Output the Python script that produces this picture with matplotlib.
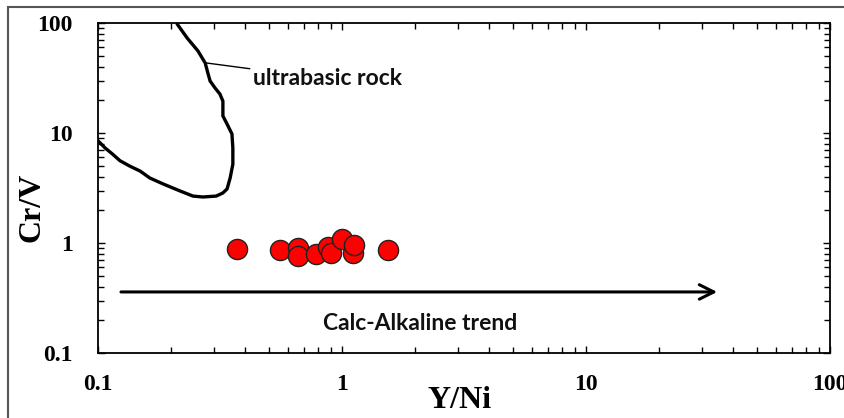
import matplotlib.pyplot as plt
from matplotlib.patches import Rectangle

# muestras (Y/Ni, Cr/V)
y_ni = [0.37, 0.557, 0.66, 0.66, 0.78, 0.876, 0.90, 1.00, 1.11, 1.12, 1.54]
cr_v = [0.88, 0.86, 0.90, 0.76, 0.79, 0.92, 0.81, 1.09, 0.81, 0.96, 0.86]

# campo de rocas ultrabásicas
ub_x = [0.211, 0.232, 0.257, 0.275, 0.282, 0.288, 0.302, 0.316, 0.325, 0.325,
        0.341, 0.354, 0.357, 0.357, 0.348, 0.338, 0.325, 0.305, 0.269, 0.245,
        0.217, 0.185, 0.163, 0.149, 0.135, 0.123, 0.115, 0.107, 0.100]
ub_y = [98, 73, 55.6, 43.3, 35.1, 29.7, 25.6, 22.6, 19.5, 14.3,
        11.6, 9.8, 7.3, 5.2, 3.9, 3.1, 2.85, 2.67, 2.62, 2.67,
        2.97, 3.44, 3.9, 4.5, 5.0, 5.6, 6.4, 7.3, 8.5]

# tendencia calco-alcalina
trend_x = [0.121, 35.4]
trend_y = [0.359, 0.359]

ticks = [0.1, 1, 10, 100]
tick_labels = ['0.1', '1', '10', '100']

fig = plt.figure(figsize=(8.45, 4.18), dpi=100)
ax = fig.add_axes([98 / 845, (418 - 353) / 418, (830 - 98) / 845, (353 - 23) / 418])

# marco exterior (recortado a la derecha y abajo)
fig.patches.append(Rectangle((8 / 845, -0.1), 1.2, (418 - 7) / 418 + 0.1,
                             transform=fig.transFigure, fill=False,
                             edgecolor='#555555', linewidth=1.5))

ax.plot(ub_x, ub_y, color='black', linewidth=2.4, solid_capstyle='round',
        solid_joinstyle='round')
ax.scatter(y_ni, cr_v, s=210, facecolor='red', edgecolor='#222222',
           linewidth=1.0, zorder=3)

ax.annotate('', xy=(trend_x[1], trend_y[1]), xytext=(trend_x[0], trend_y[0]),
            arrowprops=dict(arrowstyle='->', color='black', lw=2.2,
                            mutation_scale=26))
ax.text(2.09, 0.187, 'Calc-Alkaline trend', ha='center', va='center',
        fontsize=16.5, fontweight='bold', family='Lato', color='#111111')

ax.annotate('ultrabasic rock', xy=(0.274, 43.5), xytext=(0.43, 31),
            ha='left', va='center', fontsize=16.5, fontweight='bold',
            family='Lato', color='#111111',
            arrowprops=dict(arrowstyle='-', color='black', lw=1.0,
                            shrinkA=0, shrinkB=0))

ax.set_xscale('log')
ax.set_yscale('log')
ax.set_xlim(0.1, 100)
ax.set_ylim(0.1, 100)
ax.set_xticks(ticks)
ax.set_xticklabels(tick_labels)
ax.set_yticks(ticks)
ax.set_yticklabels(tick_labels)

ax.tick_params(which='both', direction='in', top=True, right=True, width=1.0)
ax.tick_params(which='major', length=5)
ax.tick_params(which='minor', length=4)
ax.tick_params(axis='x', which='major', pad=15)
ax.tick_params(axis='y', which='major', pad=18)
for lab in ax.get_xticklabels() + ax.get_yticklabels():
    lab.set_fontfamily('Liberation Serif')
    lab.set_fontweight('bold')
    lab.set_fontsize(17)

for s in ax.spines.values():
    s.set_linewidth(1.3)

ax.set_xlabel('Y/Ni', fontsize=23, fontweight='bold', family='Liberation Serif')
ax.set_ylabel('Cr/V', fontsize=23, fontweight='bold', family='Liberation Serif')
ax.xaxis.set_label_coords((460 - 98) / (830 - 98), (353 - 401) / (353 - 23))
ax.yaxis.set_label_coords((32 - 98) / (830 - 98), (353 - 207) / (353 - 23))
ax.xaxis.label.set_va('center')
ax.yaxis.label.set_va('center')

fig.savefig('out.png', dpi=100)
